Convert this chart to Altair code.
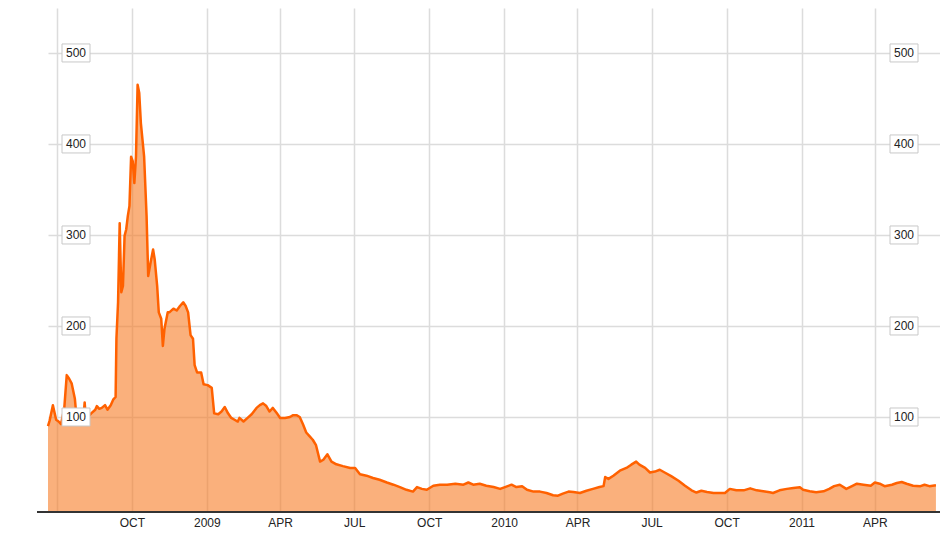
import altair as alt
import pandas as pd

DATES = [
    "2008-06-20", "2008-06-22", "2008-06-26", "2008-06-30", "2008-07-03", "2008-07-06", "2008-07-10",
    "2008-07-13", "2008-07-16", "2008-07-19", "2008-07-23", "2008-07-25", "2008-07-29", "2008-08-01",
    "2008-08-03", "2008-08-04", "2008-08-05", "2008-08-08", "2008-08-12", "2008-08-17", "2008-08-19",
    "2008-08-22", "2008-08-25", "2008-08-29", "2008-09-01", "2008-09-05", "2008-09-08", "2008-09-11",
    "2008-09-12", "2008-09-14", "2008-09-16", "2008-09-18", "2008-09-20", "2008-09-22", "2008-09-24",
    "2008-09-26", "2008-09-28", "2008-09-30", "2008-10-02", "2008-10-04", "2008-10-06", "2008-10-08",
    "2008-10-10", "2008-10-12", "2008-10-16", "2008-10-19", "2008-10-21", "2008-10-24", "2008-10-27",
    "2008-10-29", "2008-11-01", "2008-11-03", "2008-11-06", "2008-11-08", "2008-11-10", "2008-11-14",
    "2008-11-16", "2008-11-21", "2008-11-25", "2008-11-29", "2008-12-03", "2008-12-06", "2008-12-09",
    "2008-12-12", "2008-12-15", "2008-12-17", "2008-12-20", "2008-12-25", "2008-12-28",
    "2009-01-02", "2009-01-07", "2009-01-10", "2009-01-15", "2009-01-19", "2009-01-23", "2009-01-27",
    "2009-01-31", "2009-02-04", "2009-02-08", "2009-02-10", "2009-02-15", "2009-02-20", "2009-02-25",
    "2009-03-03", "2009-03-07", "2009-03-11", "2009-03-15", "2009-03-19", "2009-03-23", "2009-03-28",
    "2009-04-01", "2009-04-07", "2009-04-13", "2009-04-17", "2009-04-21", "2009-04-25", "2009-04-29",
    "2009-05-03", "2009-05-07", "2009-05-11", "2009-05-15", "2009-05-20", "2009-05-24", "2009-05-29",
    "2009-06-03", "2009-06-09", "2009-06-17", "2009-06-26", "2009-07-02", "2009-07-08", "2009-07-16",
    "2009-07-24", "2009-08-01", "2009-08-10", "2009-08-18", "2009-08-26", "2009-09-03", "2009-09-11",
    "2009-09-16", "2009-09-22", "2009-09-28", "2009-10-06", "2009-10-14", "2009-10-23", "2009-11-02",
    "2009-11-12", "2009-11-18", "2009-11-24", "2009-12-02", "2009-12-10", "2009-12-19", "2009-12-27",
    "2010-01-02", "2010-01-10", "2010-01-16", "2010-01-23", "2010-01-29", "2010-02-06", "2010-02-14",
    "2010-02-22", "2010-03-02", "2010-03-08", "2010-03-14", "2010-03-21", "2010-03-27", "2010-04-04",
    "2010-04-12", "2010-04-20", "2010-04-28", "2010-05-03", "2010-05-05", "2010-05-09", "2010-05-15",
    "2010-05-23", "2010-05-31", "2010-06-06", "2010-06-12", "2010-06-16", "2010-06-23", "2010-06-29",
    "2010-07-05", "2010-07-11", "2010-07-17", "2010-07-25", "2010-08-03", "2010-08-11", "2010-08-19",
    "2010-08-25", "2010-08-31", "2010-09-07", "2010-09-15", "2010-09-23", "2010-09-29", "2010-10-05",
    "2010-10-13", "2010-10-22", "2010-10-30", "2010-11-07", "2010-11-15", "2010-11-23", "2010-11-27",
    "2010-12-05", "2010-12-14", "2010-12-22", "2010-12-30",
    "2011-01-03", "2011-01-11", "2011-01-19", "2011-01-28", "2011-02-04", "2011-02-10", "2011-02-17",
    "2011-02-25", "2011-03-04", "2011-03-10", "2011-03-18", "2011-03-27", "2011-04-01", "2011-04-07",
    "2011-04-13", "2011-04-22", "2011-04-28", "2011-05-04", "2011-05-10", "2011-05-18", "2011-05-27",
    "2011-06-01", "2011-06-07", "2011-06-15",
]

VALUES = [
    90, 96, 113, 97, 95, 92, 110,
    146, 142, 137, 120, 100, 98, 100,
    105, 116, 104, 100, 104, 108, 112,
    109, 110, 113, 108, 113, 119, 122,
    186, 226, 313, 237, 244, 299, 306,
    321, 332, 386, 381, 357, 386, 465,
    456, 423, 386, 321, 255, 270, 284,
    273, 244, 215, 208, 178, 197, 215,
    215, 219, 217, 222, 226, 222, 215,
    190, 186, 157, 149, 149, 136,
    135, 132, 104, 103, 106, 111, 104,
    99, 97, 95, 99, 95, 99, 103,
    110, 113, 115, 112, 106, 110, 104,
    99, 99, 100, 102, 102, 100, 92,
    83, 79, 75, 69, 51, 53, 59,
    51, 48, 46, 44, 44, 37, 35.5,
    33, 31, 28, 25.6, 23, 20, 18,
    23, 21, 20, 24.5, 25.6, 25.6, 26.7,
    25.6, 28, 25.6, 26.7, 24.5, 23, 21,
    23, 25.6, 23, 24, 20, 18, 18,
    16.5, 14, 13.5, 15.8, 18, 17.6, 16.5,
    19, 21, 23, 24, 34, 32, 35.5,
    41, 44, 47.6, 51, 47.6, 44, 39,
    40, 42, 39, 35, 30, 24.5, 19.4,
    17, 19, 17.6, 16.5, 16.5, 16.5, 21,
    19.4, 19.4, 21.6, 19.4, 18.3, 17.2, 16.5,
    19.4, 21, 22, 22.7,
    20, 18.3, 17.2, 18.3, 21, 24, 25.6,
    21, 24, 26.7, 25.6, 24.5, 28, 26.7,
    24, 25.6, 27.5, 28.6, 26.7, 24.5, 24,
    25.6, 24, 25,
]

Y_TICKS = [100, 200, 300, 400, 500]
X_TICKS = ["2008-07-01", "2008-10-01", "2009-01-01", "2009-04-01", "2009-07-01", "2009-10-01",
           "2010-01-01", "2010-04-01", "2010-07-01", "2010-10-01", "2011-01-01", "2011-04-01"]
X_LABELS = ["", "OCT", "2009", "APR", "JUL", "OCT", "2010", "APR", "JUL", "OCT", "2011", "APR"]
X_DOMAIN = ["2008-06-20", "2011-06-20"]
Y_DOMAIN = [-4.4, 549.4]

W, H = 892, 504
GRID = "#dcdcdc"
FONT = "Liberation Sans"


def dt(s):
    y, m, d = map(int, s.split("-"))
    return alt.DateTime(year=y, month=m, date=d, utc=True)


df = pd.DataFrame({"date": DATES, "value": VALUES})
ticks_df = pd.DataFrame({"value": Y_TICKS})

label_expr = (
    "[" + ",".join(f"'{l}'" for l in X_LABELS) + "][indexof(["
    + ",".join(f"'{t}'" for t in X_TICKS)
    + "], utcFormat(datum.value, '%Y-%m-%d'))]"
)

x_enc = alt.X(
    "date:T",
    scale=alt.Scale(type="utc", domain=[dt(d) for d in X_DOMAIN]),
    axis=alt.Axis(
        values=[dt(d) for d in X_TICKS], labelExpr=label_expr, grid=True,
        gridColor=GRID, gridWidth=1.5, domain=False, ticks=False,
        labelFont=FONT, labelFontSize=12, labelColor="#222", labelPadding=5,
        labelOverlap=False, title=None,
    ),
)
Y_AXIS = alt.Axis(values=Y_TICKS, grid=True, gridColor=GRID, gridWidth=1.5,
                  labels=False, ticks=False, domain=False, title=None)
y_enc = alt.Y(
    "value:Q",
    scale=alt.Scale(domain=Y_DOMAIN, nice=False, zero=False),
    axis=Y_AXIS,
)

area = alt.Chart(df).mark_area(color="#F77B25", opacity=0.6).encode(
    x=x_enc, y=y_enc, y2=alt.datum(Y_DOMAIN[0])
)
line = alt.Chart(df).mark_line(color="#FF6100", strokeWidth=2.5, strokeJoin="round").encode(
    x=x_enc, y=y_enc
)


def label_boxes(x0, x1):
    box = alt.Chart(ticks_df).mark_rect(
        fill="white", stroke="#c8c8c8", strokeWidth=1, yOffset=-9, y2Offset=9
    ).encode(x=alt.value(x0), x2=alt.value(x1), y=y_enc, y2=alt.Y2("value:Q"))
    txt = alt.Chart(ticks_df).mark_text(
        align="center", baseline="middle", font=FONT, fontSize=12, color="#222"
    ).encode(x=alt.value((x0 + x1) / 2), y=y_enc, text="value:Q")
    return box, txt


bl, tl = label_boxes(14, 42)
br, tr = label_boxes(842, 870)

baseline = alt.Chart(df).mark_rule(color="#333333", strokeWidth=2).encode(
    x=alt.value(-11), x2=alt.value(W), y=alt.value(H)
)

chart = (
    alt.layer(area, line, bl, tl, br, tr, baseline)
    .properties(
        width=W, height=H,
        padding={"left": 40, "top": 0, "right": 0, "bottom": 16},
        autosize=alt.AutoSizeParams(type="none"),
    )
    .configure_view(stroke=None)
)

chart.save("out.html", embed_options={"renderer": "svg", "actions": False})
